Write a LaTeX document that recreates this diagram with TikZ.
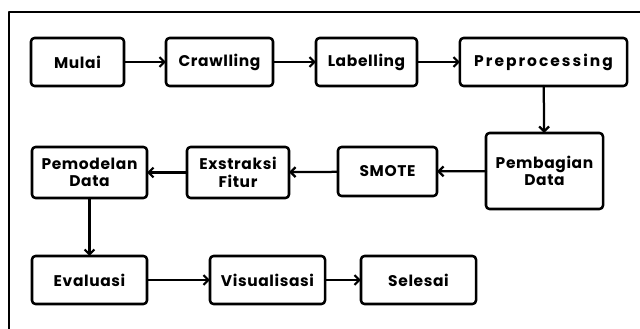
\documentclass[tikz,border=0pt]{standalone}
\usepackage{fontspec}
\setmainfont{Poppins}[LetterSpace=4]
\newfontfamily\wide{Poppins}[LetterSpace=13]
\usetikzlibrary{arrows.meta}
\begin{document}
\begin{tikzpicture}[x=0.025cm, y=-0.025cm, line join=round, line cap=round,
  box/.style={draw, line width=1.8pt, rounded corners=2.5pt, align=center, inner sep=0pt, outer sep=0pt,
    minimum height=1.2cm, font=\fontsize{11}{12.5}\selectfont\bfseries},
  arr/.style={line width=1.6pt, -{Straight Barb[length=3.5pt,width=7pt,line width=1.6pt]}}]
\useasboundingbox (0,0) rectangle (640,329);
\draw[line width=1pt] (640,12)--(9,12)--(9,329);
% baris atas
\node[box, minimum width=2.325cm] (mulai) at (77.5,62) {Mulai};
\node[box, minimum width=2.675cm] (crawl) at (219.5,62) {Crawlling};
\node[box, minimum width=2.525cm] (label) at (366.5,62) {Labelling};
\node[box, minimum width=4.175cm] (prepro) at (543.5,62) {\wide Preprocessing};
% baris tengah
\node[box, minimum width=2.925cm, minimum height=1.9cm] (bagi) at (544.5,171) {Pembagian\\Data};
\node[box, minimum width=2.475cm, minimum height=1.225cm] (smote) at (387.5,171.5) {SMOTE};
\node[box, minimum width=2.55cm, minimum height=1.275cm] (fitur) at (238,172.5) {Exstraksi\\Fitur};
\node[box, minimum width=2.875cm, minimum height=1.275cm] (model) at (89.5,172.5) {Pemodelan\\Data};
% baris bawah
\node[box, minimum width=2.875cm] (eval) at (89.5,280) {Evaluasi};
\node[box, minimum width=2.875cm] (visual) at (267.5,280) {Visualisasi};
\node[box, minimum width=2.875cm] (selesai) at (418.5,280) {Selesai};
\draw[arr] (mulai)--(crawl);
\draw[arr] (crawl)--(label);
\draw[arr] (label)--(prepro);
\draw[arr] (prepro)--(bagi);
\draw[arr] (bagi)--(smote);
\draw[arr] (smote)--(fitur);
\draw[arr] (fitur)--(model);
\draw[arr] (model)--(eval);
\draw[arr] (eval)--(visual);
\draw[arr] (visual)--(selesai);
\end{tikzpicture}
\end{document}
